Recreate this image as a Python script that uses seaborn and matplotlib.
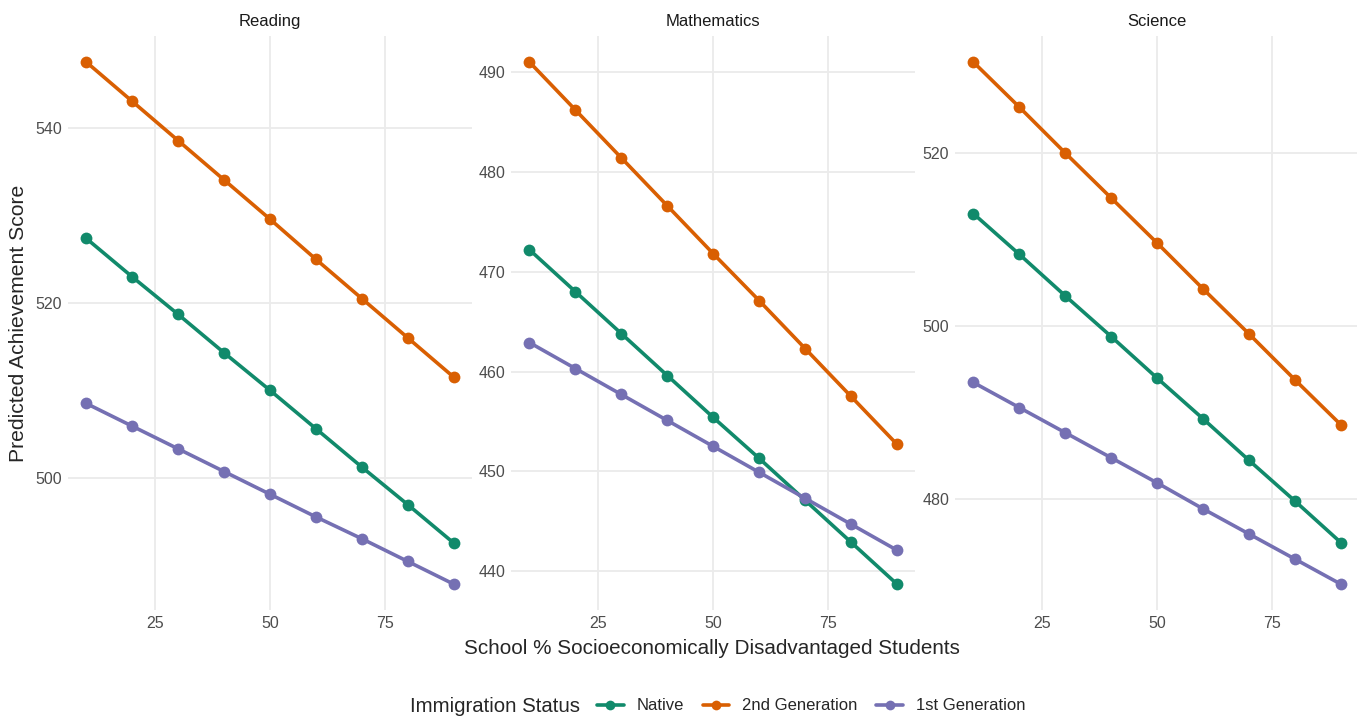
import pandas as pd
import numpy as np
import matplotlib
matplotlib.use("Agg")
import matplotlib.pyplot as plt
from matplotlib.lines import Line2D
import seaborn as sns

# datos
pct = [10, 20, 30, 40, 50, 60, 70, 80, 90]
subjects = ["Reading", "Mathematics", "Science"]
groups = ["Native", "2nd Generation", "1st Generation"]

reading_native = [527.4, 523.0, 518.7, 514.3, 510.0, 505.6, 501.2, 496.9, 492.5]
reading_2nd = [547.6, 543.1, 538.6, 534.1, 529.6, 525.0, 520.5, 516.0, 511.5]
reading_1st = [508.5, 505.9, 503.3, 500.7, 498.1, 495.5, 493.0, 490.4, 487.8]

math_native = [472.2, 468.0, 463.8, 459.6, 455.4, 451.3, 447.1, 442.9, 438.7]
math_2nd = [491.0, 486.2, 481.4, 476.6, 471.8, 467.1, 462.3, 457.5, 452.7]
math_1st = [462.9, 460.3, 457.7, 455.1, 452.5, 449.9, 447.3, 444.7, 442.1]

science_native = [513.0, 508.3, 503.5, 498.8, 494.0, 489.3, 484.5, 479.8, 475.0]
science_2nd = [530.5, 525.3, 520.0, 514.8, 509.6, 504.3, 499.1, 493.8, 488.6]
science_1st = [493.5, 490.6, 487.7, 484.8, 481.9, 478.9, 476.0, 473.1, 470.2]

scores = {
    "Reading": [reading_native, reading_2nd, reading_1st],
    "Mathematics": [math_native, math_2nd, math_1st],
    "Science": [science_native, science_2nd, science_1st],
}

rows = []
for subj in subjects:
    for g, vals in zip(groups, scores[subj]):
        for x, y in zip(pct, vals):
            rows.append({"subject": subj, "status": g, "pct": x, "score": y})
df = pd.DataFrame(rows)

colors = ["#118A6B", "#D95F02", "#7570B3"]

sns.set_theme(style="white")
plt.rcParams["font.family"] = ["Liberation Sans", "DejaVu Sans"]

fig = plt.figure(figsize=(13.57, 7.18), dpi=100)
lefts = [0.050, 0.3766, 0.7037]
width = 0.298
bottom, top = 0.150, 0.950

for left, subj in zip(lefts, subjects):
    ax = fig.add_axes([left, bottom, width, top - bottom])
    sub = df[df["subject"] == subj]
    sns.lineplot(data=sub, x="pct", y="score", hue="status", hue_order=groups,
                 palette=colors, marker="o", markersize=8.5, markeredgewidth=0,
                 linewidth=2.6, ax=ax, legend=False)
    ax.set_xlim(6, 94)
    lo, hi = sub["score"].min(), sub["score"].max()
    pad = (hi - lo) * 0.05
    ax.set_ylim(lo - pad, hi + pad)
    ax.set_xticks([25, 50, 75])
    ax.yaxis.set_major_locator(matplotlib.ticker.MultipleLocator(20 if subj != "Mathematics" else 10))
    ax.grid(True, color="#EBEBEB", linewidth=1.3)
    ax.set_axisbelow(True)
    for s in ax.spines.values():
        s.set_visible(False)
    ax.tick_params(axis="both", length=0, labelsize=11.5, labelcolor="#4D4D4D", pad=4)
    ax.set_xlabel("")
    ax.set_ylabel("")
    ax.set_title(subj, fontsize=12, color="#1A1A1A", pad=7)

fig.text(0.0135, (bottom + top) / 2, "Predicted Achievement Score", rotation=90,
         ha="center", va="center", fontsize=15.2)
fig.text(712 / 1357, 1 - 649 / 718, "School % Socioeconomically Disadvantaged Students",
         ha="center", va="center", fontsize=14.9)

handles = [Line2D([0], [0], color=c, marker="o", linewidth=2.6, markersize=7,
                  markeredgewidth=0) for c in colors]
fig.text(410 / 1357, 1 - 706 / 718, "Immigration Status", ha="left", va="center", fontsize=14.7)
fig.legend(handles, groups, loc="center left", bbox_to_anchor=(597 / 1357, 1 - 706 / 718),
           ncol=3, frameon=False, fontsize=12, handlelength=1.6, handletextpad=0.75,
           columnspacing=1.15, borderaxespad=0, borderpad=0)

fig.savefig("out.png", dpi=100)
